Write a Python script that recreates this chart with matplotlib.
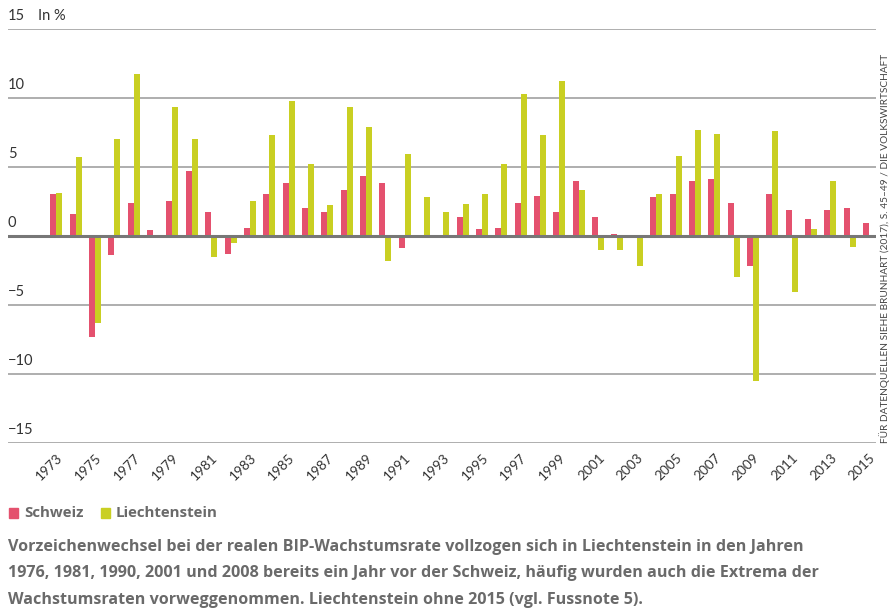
import matplotlib
matplotlib.use("Agg")
import matplotlib.pyplot as plt
import matplotlib.patches as mpatches
from matplotlib.transforms import blended_transform_factory
import numpy as np

years = list(range(1973, 2016))
schweiz = [3.0, 1.6, -7.3, -1.4, 2.4, 0.4, 2.5, 4.7, 1.7, -1.3, 0.6, 3.0, 3.8,
           2.0, 1.7, 3.3, 4.3, 3.8, -0.9, 0.0, 0.0, 1.4, 0.5, 0.6, 2.4, 2.9, 1.7,
           4.0, 1.4, 0.1, 0.0, 2.8, 3.0, 4.0, 4.1, 2.4, -2.2, 3.0, 1.9, 1.2, 1.9,
           2.0, 0.9]
liechtenstein = [3.1, 5.7, -6.3, 7.0, 11.7, 0.0, 9.3, 7.0, -1.5, -0.5, 2.5, 7.3, 9.8,
                 5.2, 2.2, 9.3, 7.9, -1.8, 5.9, 2.8, 1.7, 2.3, 3.0, 5.2, 10.3, 7.3, 11.2,
                 3.3, -1.0, -1.0, -2.2, 3.0, 5.8, 7.7, 7.4, -3.0, -10.5, 7.6, -4.1, 0.5, 4.0,
                 -0.8, np.nan]
yticks = [-15, -10, -5, 0, 5, 10, 15]
ytick_labels = ["−15", "−10", "−5", "0", "5", "10", "15"]
xtick_years = list(range(1973, 2016, 2))
series_names = ["Schweiz", "Liechtenstein"]
colors = ["#E4516E", "#C9CF22"]
caption = ("Vorzeichenwechsel bei der realen BIP-Wachstumsrate vollzogen sich in Liechtenstein in den Jahren\n"
           "1976, 1981, 1990, 2001 und 2008 bereits ein Jahr vor der Schweiz, häufig wurden auch die Extrema der\n"
           "Wachstumsraten vorweggenommen. Liechtenstein ohne 2015 (vgl. Fussnote 5).")
source = "FÜR DATENQUELLEN SIEHE BRUNHART (2017), S. 45–49 / DIE VOLKSWIRTSCHAFT"

plt.rcParams['font.family'] = ['Lato', 'DejaVu Sans']
W, H = 892, 610
fig = plt.figure(figsize=(W / 100, H / 100), dpi=100)
ax = fig.add_axes([8 / W, 1 - 443 / H, (876 - 8) / W, (443 - 28.7) / H])

x = np.array(years, dtype=float)
bw = 0.31
ax.bar(x - bw / 2, schweiz, width=bw, color=colors[0], zorder=3)
ax.bar(x + bw / 2, liechtenstein, width=bw, color=colors[1], zorder=3)

ax.set_ylim(-15, 15)
ax.set_xlim(1973 - 2.5, 2015 + 0.36)
for v in yticks:
    if v == 0:
        ax.axhline(v, color="#777777", lw=2.2, zorder=4)
    else:
        ax.axhline(v, color="#a8a8a8", lw=1.3, zorder=1)

trans = blended_transform_factory(ax.transAxes, ax.transData)
for v, lab in zip(yticks, ytick_labels):
    ax.annotate(lab, xy=(0, v), xycoords=trans, xytext=(0, 4), textcoords="offset points",
                ha="left", va="bottom", fontsize=10.5, color="#333333")
ax.annotate("In %", xy=(0, 15), xycoords=trans, xytext=(21.5, 4), textcoords="offset points",
            ha="left", va="bottom", fontsize=10.5, color="#333333")

ax.set_yticks([])
ax.set_xticks(xtick_years)
ax.set_xticklabels([str(y) for y in xtick_years], rotation=45, ha="right",
                   rotation_mode="anchor", fontsize=9.8, color="#333333")
ax.tick_params(axis="x", length=0, pad=6)
for s in ax.spines.values():
    s.set_visible(False)

cap_font = dict(family=['Open Sans', 'DejaVu Sans'], fontweight="bold")

# legend
for i, (name, c) in enumerate(zip(series_names, colors)):
    x0 = [9, 101][i]
    fig.patches.append(mpatches.Rectangle((x0 / W, 1 - 518 / H), 9 / W, 10 / H,
                                          transform=fig.transFigure, color=c))
    fig.text((x0 + 15) / W, 1 - 513 / H, name, ha="left", va="center",
             fontsize=10.8, color="#6a6a6a", **cap_font)

fig.text(8 / W, 1 - 539 / H, caption, ha="left", va="top", fontsize=11.65,
         color="#6a6a6a", linespacing=1.86, **cap_font)

fig.text(885 / W, 1 - 443 / H, source, rotation=90, ha="center", va="bottom",
         fontsize=7.3, color="#444444")

fig.savefig("out.png", dpi=100)
